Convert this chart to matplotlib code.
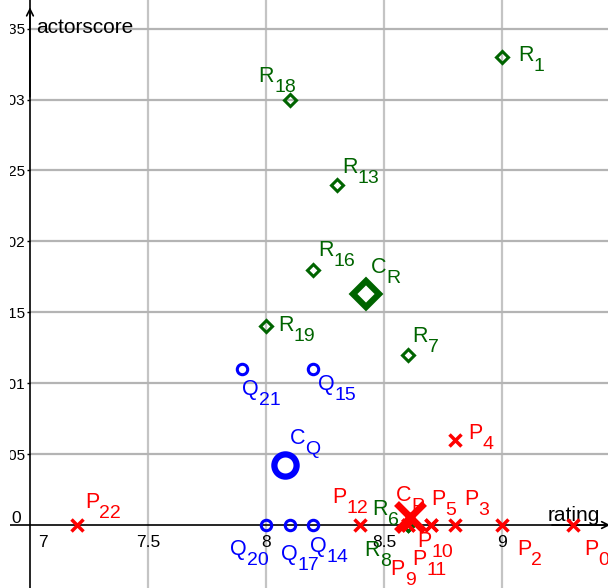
import matplotlib
matplotlib.use('Agg')
from matplotlib import pyplot as plt
from matplotlib.patches import Rectangle

plt.rcParams['font.family'] = ['Liberation Sans', 'DejaVu Sans']

# rating / actorscore of every point
p_names = ['0', '2', '3', '4', '5', '9', '10', '11', '12', '22']
p_rating = [9.3, 9.0, 8.8, 8.8, 8.7, 8.6, 8.7, 8.6, 8.4, 7.2]
p_score = [0, 0, 0, 0.006, 0, 0, 0, 0, 0, 0]

q_names = ['14', '15', '17', '20', '21']
q_rating = [8.2, 8.2, 8.1, 8.0, 7.9]
q_score = [0, 0.011, 0, 0, 0.011]

r_names = ['1', '6', '7', '8', '13', '16', '18', '19']
r_rating = [9.0, 8.6, 8.6, 8.6, 8.3, 8.2, 8.1, 8.0]
r_score = [0.033, 0, 0.012, 0, 0.024, 0.018, 0.030, 0.014]

# centres C_P, C_Q, C_R
c_names = ['P', 'Q', 'R']
c_rating = [8.61, 8.08, 8.425]
c_score = [0.0006, 0.0042, 0.0163]

x_ticks = [7.5, 8, 8.5, 9]
y_ticks = [0.005, 0.01, 0.015, 0.02, 0.025, 0.03, 0.035]
y_labels = ['0.005', '0.01', '0.015', '0.02', '0.025', '0.03', '0.035']

RED = '#ff0000'
BLUE = '#0000ff'
GREEN = '#006400'

# label offsets (pixels) from the point to the label baseline
p_off = {'0': (11, -30), '2': (15, -30), '3': (9, 20), '4': (13, 1), '5': (0, 20),
         '9': (-17, -50), '10': (-14, -22), '11': (5, -40), '12': (-28, 22), '22': (8, 17)}
q_off = {'14': (-3, -27), '15': (5, -21), '17': (-9, -35), '20': (-36, -30), '21': (0, -26)}
r_off = {'1': (16, -4), '6': (-35, 10), '7': (5, 13), '8': (-43, -31), '13': (5, 12),
         '16': (5, 14), '18': (-31, 18), '19': (12, -5)}
c_off = {'P': (-14, 16), 'Q': (5, 21), 'R': (5, 21)}

fig = plt.figure(figsize=(6.08, 5.88), dpi=100)
ax = fig.add_axes([0, 0, 1, 1])
ax.set_xlim(6.873, 9.449)
ax.set_ylim(-0.00444, 0.03702)

# grid (horizontal lines only right of the y axis)
for v in x_ticks:
    ax.axvline(v, color='#c4c4c4', lw=1.6, zorder=0)
ax.hlines(y_ticks, 7, 9.449, color='#b4b4b4', lw=1.6, zorder=0)

# axes through the origin
for s in ['top', 'right']:
    ax.spines[s].set_visible(False)
ax.spines['left'].set_position(('data', 7))
ax.spines['bottom'].set_position(('data', 0))
ax.spines['left'].set_linewidth(1.2)
ax.spines['bottom'].set_linewidth(1.2)
ax.set_xticks(x_ticks)
ax.set_xticklabels(['7.5', '8', '8.5', '9'])
ax.set_yticks(y_ticks)
ax.set_yticklabels(y_labels, va='center_baseline')
ax.tick_params(axis='x', length=0, pad=7, labelsize=12.5)
ax.tick_params(axis='y', length=2.5, width=1, pad=1, labelsize=11)
ax.annotate('', xy=(7, 0.0367), xytext=(7, 0.030),
            arrowprops=dict(arrowstyle='->', lw=1.2, color='black', mutation_scale=12))
ax.annotate('', xy=(9.47, 0), xytext=(9.2, 0), annotation_clip=False,
            arrowprops=dict(arrowstyle='->', lw=1.2, color='black', mutation_scale=12))
ax.annotate('7', (7, 0), xytext=(8, -10), textcoords='offset pixels', fontsize=12.5, va='top')
ax.annotate('0', (7, 0), xytext=(-9, 2), textcoords='offset pixels', fontsize=12.5,
            ha='right', va='baseline')
ax.annotate('rating', xy=(1, 0), xycoords=('axes fraction', 'data'), xytext=(-60, 4),
            textcoords='offset pixels', fontsize=15, va='baseline')
ax.annotate('actorscore', xy=(7, 1), xycoords=('data', 'axes fraction'), xytext=(6, -33),
            textcoords='offset pixels', fontsize=15, va='baseline')


def label(x, y, main, sub, color, off):
    t = ax.annotate(main, (x, y), xytext=off, textcoords='offset pixels', color=color,
                    fontsize=15.5, va='baseline', ha='left', zorder=5)
    ax.annotate(sub, xy=(1, 0), xycoords=t, xytext=(0, -5), textcoords='offset pixels',
                color=color, fontsize=14, va='baseline', ha='left', zorder=5)


# points
ax.plot(r_rating, r_score, 'D', ms=6.5, mfc='none', mec=GREEN, mew=2.2, zorder=3)
ax.plot(q_rating, q_score, 'o', ms=7.5, mfc='none', mec=BLUE, mew=2.2, zorder=3)
ax.plot(p_rating, p_score, 'x', ms=9, mec=RED, mew=2.5, zorder=4)
ax.plot(c_rating[2], c_score[2], 'D', ms=13, mfc='none', mec=GREEN, mew=4.5, zorder=3)
ax.plot(c_rating[1], c_score[1], 'o', ms=16, mfc='none', mec=BLUE, mew=4.5, zorder=3)
ax.plot(c_rating[0], c_score[0], 'x', ms=20, mec=RED, mew=5, zorder=4)

for n, x, y in zip(p_names, p_rating, p_score):
    label(x, y, 'P', n, RED, p_off[n])
for n, x, y in zip(q_names, q_rating, q_score):
    label(x, y, 'Q', n, BLUE, q_off[n])
for n, x, y in zip(r_names, r_rating, r_score):
    label(x, y, 'R', n, GREEN, r_off[n])
colors = [RED, BLUE, GREEN]
for n, x, y, c in zip(c_names, c_rating, c_score, colors):
    label(x, y, 'C', n, c, c_off[n])

# the view starts a few pixels in from the left edge
fig.patches.append(Rectangle((0, 0), 9.5 / 608, 1, transform=fig.transFigure,
                             facecolor='white', edgecolor='none', zorder=10))

plt.savefig('out.png', dpi=100)
